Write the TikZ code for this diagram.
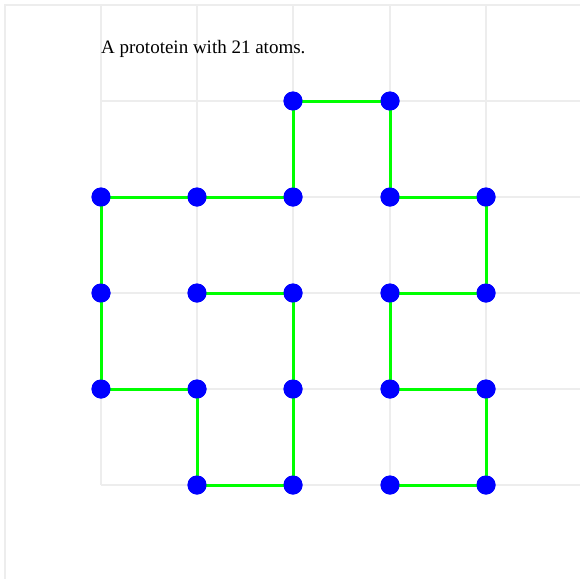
\documentclass[tikz,border=0pt]{standalone}
\usepackage{fontspec}
\setmainfont{Liberation Serif}
\begin{document}
\begin{tikzpicture}[x=1pt,y=-1pt,
  gridline/.style={draw=black!7,line width=1.5pt},
  atom/.style={circle,fill=blue,draw=none,minimum size=19pt,inner sep=0pt},
  bond/.style={draw=green,line width=3pt}]
\useasboundingbox (0,0) rectangle (580,579);
\fill[white] (0,0) rectangle (580,579);
% frame
\draw[gridline] (5,579) -- (5,5) -- (580,5);
% grid
\foreach \x in {101,197,293,390,486} \draw[gridline] (\x,5) -- (\x,485);
\foreach \y in {101,197,293,389,485} \draw[gridline] (101,\y) -- (580,\y);
% title
\node[anchor=base west,inner sep=0pt,font=\fontsize{19}{23}\selectfont] (title) at (101,53) {A prototein with 21 atoms.};
% atoms
\node[atom] (a1) at (197,293) {};
\node[atom] (a2) at (293,293) {};
\node[atom] (a3) at (293,389) {};
\node[atom] (a4) at (293,485) {};
\node[atom] (a5) at (197,485) {};
\node[atom] (a6) at (197,389) {};
\node[atom] (a7) at (101,389) {};
\node[atom] (a8) at (101,293) {};
\node[atom] (a9) at (101,197) {};
\node[atom] (a10) at (197,197) {};
\node[atom] (a11) at (293,197) {};
\node[atom] (a12) at (293,101) {};
\node[atom] (a13) at (390,101) {};
\node[atom] (a14) at (390,197) {};
\node[atom] (a15) at (486,197) {};
\node[atom] (a16) at (486,293) {};
\node[atom] (a17) at (390,293) {};
\node[atom] (a18) at (390,389) {};
\node[atom] (a19) at (486,389) {};
\node[atom] (a20) at (486,485) {};
\node[atom] (a21) at (390,485) {};
% bonds
\begin{scope}[on background layer/.style={}]
\end{scope}
\foreach \i [evaluate=\i as \j using int(\i+1)] in {1,...,20}
  \draw[bond] (a\i.center) -- (a\j.center);
% redraw atoms on top
\foreach \i in {1,...,21}
  \fill[blue] (a\i.center) circle (9.5);
\end{tikzpicture}
\end{document}
